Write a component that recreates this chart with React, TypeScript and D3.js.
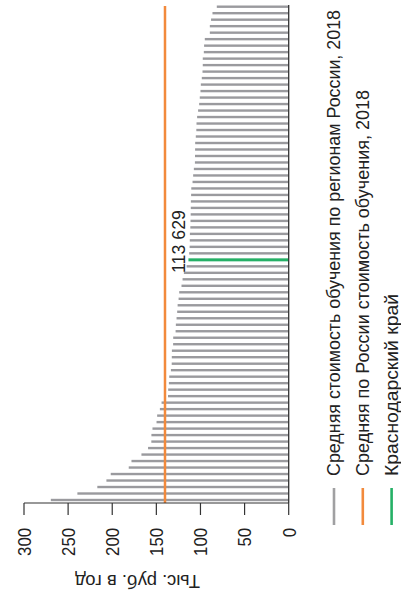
import React from "react";
import * as d3 from "d3";

// Average cost of education by region of Russia, 2018 (thousand rub./year), ordered top to bottom
const regionValues: number[] = [
  81.5, 86.4, 88, 89.4, 89.4, 95.1, 95.9, 96.2, 97.4, 97.4,
  97.7, 98.5, 99.6, 100, 100.8, 101.5, 102.7, 103.8, 104.5, 104.7,
  105.3, 106, 106.1, 106.2, 106.3, 107.5, 108.3, 109, 110.4, 110.6,
  110.9, 111, 111.1, 111.3, 111.5, 112, 112.1, 112.3, 112.8, 113.629,
  115.7, 118.8, 120.3, 121.5, 124.1, 124.8, 125.9, 126.4, 127.1, 127.9,
  128.2, 130.9, 131, 132.4, 132.5, 132.6, 133.5, 135.4, 135.8, 136.6,
  136.8, 144.1, 146, 149.1, 149.8, 154.4, 155.6, 155.7, 159.4, 166.9,
  178.2, 181.3, 201.7, 206.6, 216.9, 239.5, 269.6,
];
const highlightIndex = 39; // Краснодарский край
const highlightLabel = "113 629";
const russiaAverage = 140.2;
const ticks: number[] = [0, 50, 100, 150, 200, 250, 300];
const axisTitle = "Тыс. руб. в год";
const legendItems: string[] = [
  "Средняя стоимость обучения по регионам России, 2018",
  "Средняя по России стоимость обучения, 2018",
  "Краснодарский край",
];
const legendColors: string[] = ["#a0a0a2", "#f28a3c", "#25b066"];
const legendLengths: number[] = [466, 386, 182];

const W = 401;
const H = 597;
const FONT = "'Liberation Sans', Arial, Helvetica, sans-serif";

export default function App() {
  const x = d3.scaleLinear().domain([0, 300]).range([288.7, 24]);
  const y = d3
    .scalePoint<number>()
    .domain(regionValues.map((_, i) => i))
    .range([6.7, 500]);
  const axisY = 503;

  return (
    <svg
      width={W}
      height={H}
      style={{ position: "absolute", left: 0, top: 0, background: "#fff" }}
      fontFamily={FONT}
    >
      {/* bars */}
      {regionValues.map((v, i) =>
        i === highlightIndex ? null : (
          <rect
            key={i}
            x={x(v)}
            y={(y(i) as number) - 1.2}
            width={x(0) - x(v)}
            height={2.4}
            fill="#9a9a9e"
          />
        )
      )}
      {/* highlighted region */}
      <rect
        x={x(regionValues[highlightIndex])}
        y={(y(highlightIndex) as number) - 1.5}
        width={x(0) - x(regionValues[highlightIndex])}
        height={3}
        fill={legendColors[2]}
      />
      <text
        transform={`translate(185,273) rotate(-90)`}
        fontSize={19}
        fill="#222"
        textAnchor="start"
        textLength={63}
        lengthAdjust="spacingAndGlyphs"
      >
        {highlightLabel}
      </text>
      {/* Russia average line */}
      <line
        x1={x(russiaAverage)}
        x2={x(russiaAverage)}
        y1={6}
        y2={axisY}
        stroke={legendColors[1]}
        strokeWidth={2.5}
      />
      {/* zero line */}
      <line x1={x(0)} x2={x(0)} y1={5} y2={axisY} stroke="#333" strokeWidth={1.3} />
      {/* value axis */}
      <line x1={x(300)} x2={x(0)} y1={axisY} y2={axisY} stroke="#333" strokeWidth={1.2} />
      {ticks.map((t) => {
        const s = String(t);
        return (
          <g key={t}>
            <line x1={x(t)} x2={x(t)} y1={axisY} y2={axisY + 12} stroke="#333" strokeWidth={1.2} />
            <text
              transform={`translate(${x(t)},528) rotate(-90)`}
              textAnchor="end"
              dy="0.36em"
              fontSize={19}
              fill="#222"
              textLength={s.length * 9.3}
              lengthAdjust="spacingAndGlyphs"
            >
              {s}
            </text>
          </g>
        );
      })}
      <text
        transform="translate(137.5,575) rotate(180)"
        textAnchor="middle"
        fontSize={18.5}
        fill="#222"
        textLength={125}
        lengthAdjust="spacingAndGlyphs"
      >
        {axisTitle}
      </text>
      {/* legend */}
      {legendItems.map((label, i) => {
        const lx = 334 + i * 28.8;
        return (
          <g key={label}>
            <line x1={lx} x2={lx} y1={488} y2={525} stroke={legendColors[i]} strokeWidth={2.6} />
            <text
              transform={`translate(${lx + 6.3},476) rotate(-90)`}
              textAnchor="start"
              fontSize={17.6}
              fill="#222"
              textLength={legendLengths[i]}
              lengthAdjust="spacingAndGlyphs"
            >
              {label}
            </text>
          </g>
        );
      })}
    </svg>
  );
}
